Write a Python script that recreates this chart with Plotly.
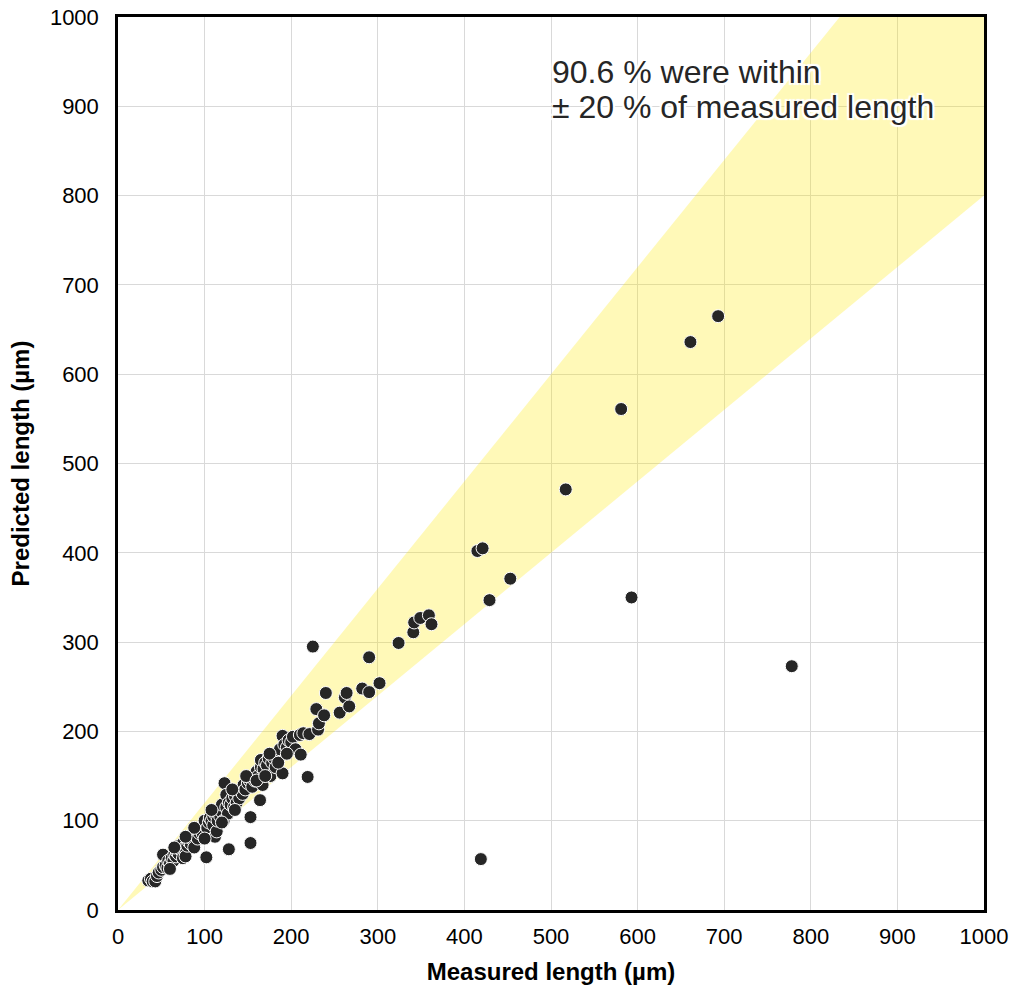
import plotly.graph_objects as go

# Measured (x) and predicted (y) lengths in µm
measured = [35, 38, 40, 43, 45, 47, 50, 52, 52, 55, 57, 58, 60, 62, 64, 65, 67, 68, 70, 70,
            72, 74, 75, 75, 77, 78, 80, 80, 82, 84, 85, 87, 88, 90, 90, 92, 94, 95, 97, 98,
            100, 100, 102, 103, 105, 106, 108, 110, 110, 112, 112, 114, 115, 116, 118, 120, 120, 122, 123, 125,
            125, 127, 128, 128, 130, 132, 134, 135, 137, 138, 140, 142, 144, 145, 147, 150, 152, 153, 153, 155,
            157, 158, 160, 162, 164, 165, 165, 167, 168, 170, 172, 174, 176, 178, 180, 182, 185, 187, 190, 190,
            192, 195, 197, 200, 202, 205, 210, 211, 214, 219, 221, 225, 229, 231, 232, 238, 240, 256, 262, 264,
            267, 282, 290, 290, 302, 324, 341, 342, 349, 359, 362, 415, 421, 419, 429, 453, 517, 581, 593, 661,
            693, 778,
            108, 132, 148, 160, 170, 175, 185, 195, 120, 135, 88, 78, 65, 60, 100]
predicted = [33, 35, 32, 32, 38, 42, 45, 48, 62, 50, 47, 55, 52, 58, 55, 62, 60, 65, 63, 72,
             68, 66, 58, 75, 70, 60, 72, 80, 76, 74, 82, 78, 70, 84, 88, 80, 86, 92, 90, 85,
             95, 100, 59, 92, 98, 103, 100, 95, 105, 82, 108, 88, 100, 112, 105, 110, 118, 100, 142, 129,
             115, 108, 68, 120, 118, 125, 115, 128, 120, 132, 125, 135, 130, 140, 135, 142, 145, 104, 75, 138,
             150, 145, 155, 150, 123, 160, 168, 140, 158, 165, 162, 170, 150, 165, 170, 160, 175, 180, 153, 195,
             185, 182, 190, 188, 194, 180, 196, 174, 198, 149, 197, 295, 225, 202, 209, 218, 243, 221, 238, 243,
             228, 248, 244, 283, 254, 299, 311, 322, 327, 330, 320, 402, 405, 57, 347, 371, 471, 561, 350, 636,
             665, 273,
             112, 135, 150, 145, 150, 175, 165, 175, 98, 112, 92, 82, 70, 46, 80]

band_x = [0, 1000, 1000, 1000 / 1.2, 0]
band_y = [0, 800, 1000, 1000, 0]
ticks = list(range(0, 1001, 100))
note_lines = ["90.6 % were within", "± 20 % of measured length"]

font_family = "Liberation Sans, Arial, sans-serif"
halo = "2px 2px 1px white, -2px -2px 1px white, 2px -2px 1px white, -2px 2px 1px white"

fig = go.Figure()
fig.add_trace(go.Scatter(x=band_x, y=band_y, mode="lines", fill="toself",
                         fillcolor="rgba(255,233,0,0.28)", line=dict(width=0),
                         hoverinfo="skip", showlegend=False))
fig.add_trace(go.Scatter(x=measured, y=predicted, mode="markers",
                         marker=dict(size=13, color="#262626", line=dict(color="white", width=1)),
                         showlegend=False))

for line_text, yv in zip(note_lines, [938, 899]):
    fig.add_annotation(x=499, y=yv, xref="x", yref="y", xanchor="left", yanchor="middle",
                       align="left", showarrow=False, text=line_text,
                       font=dict(family=font_family, size=32, color="#262626", shadow=halo))

axis_common = dict(range=[0, 1000], tickvals=ticks, showgrid=True, gridcolor="#d9d9d9", gridwidth=1,
                   showline=True, linecolor="black", linewidth=2.5, mirror=True, zeroline=False,
                   ticks="", automargin=False, tickfont=dict(family=font_family, size=22, color="black"))

fig.update_xaxes(**axis_common, ticklabelstandoff=5,
                 title=dict(text="<b>Measured length (µm)</b>", font=dict(family=font_family, size=24, color="black"),
                            standoff=16))
fig.update_yaxes(**axis_common, ticklabelstandoff=12,
                 title=dict(text="<b>Predicted length (µm)</b>", font=dict(family=font_family, size=24, color="black"),
                            standoff=14))

fig.update_layout(width=1014, height=995, margin=dict(l=118, r=30, t=17, b=85),
                  plot_bgcolor="white", paper_bgcolor="white",
                  font=dict(family=font_family))

fig.write_html("out.html")
